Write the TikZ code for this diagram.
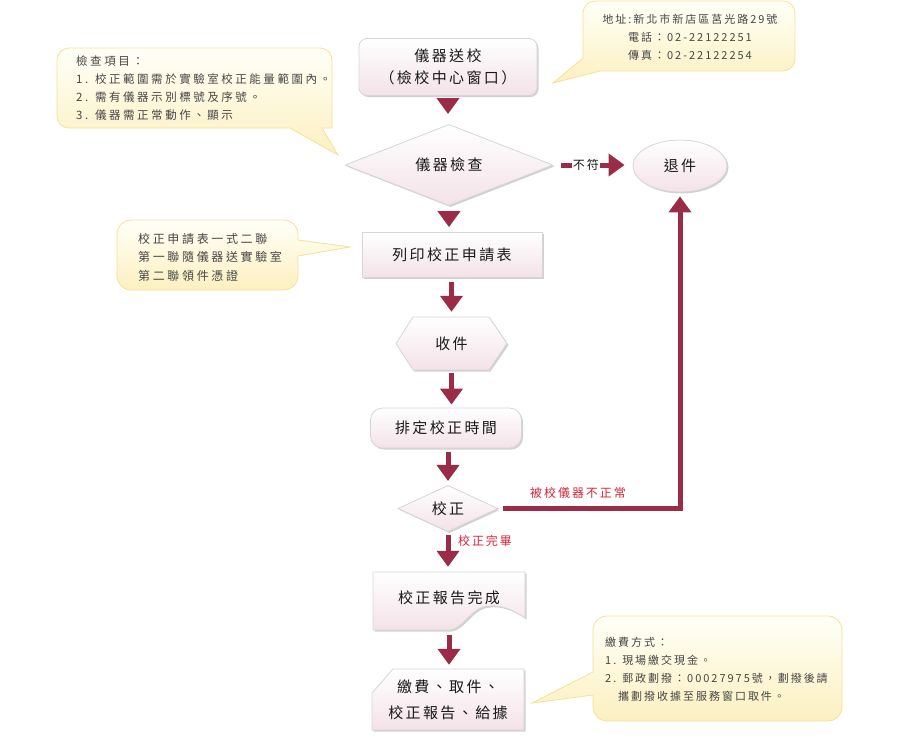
\documentclass[tikz,border=0pt]{standalone}
\usepackage{fontspec}
\setmainfont{Noto Sans CJK TC}
\newfontfamily\nodefont{Noto Sans CJK TC}[LetterSpace=16]
\newfontfamily\notefont{Noto Sans CJK TC}[LetterSpace=18]
\newfontfamily\notefontb{Noto Sans CJK TC}[LetterSpace=22]
\usetikzlibrary{arrows.meta,shapes.geometric,shadows}
\definecolor{arr}{RGB}{155,44,71}
\definecolor{pk}{RGB}{243,226,231}
\definecolor{bd}{RGB}{214,214,214}
\definecolor{nA}{RGB}{255,255,248}
\definecolor{nB}{RGB}{252,240,192}
\definecolor{nbd}{RGB}{245,225,150}
\definecolor{redt}{RGB}{214,36,58}
\definecolor{txt}{RGB}{25,25,25}
\definecolor{ntxt}{RGB}{70,70,70}
\begin{document}
\begin{tikzpicture}[x=1pt,y=-1pt,
  shd/.style={drop shadow={shadow xshift=1.5pt, shadow yshift=-1.5pt, opacity=0.18, fill=black}},
  proc/.style={shd, draw=bd, line width=0.8pt, top color=white, bottom color=pk, text=txt,
    font=\nodefont\fontsize{15}{22}\selectfont, align=center, inner sep=0pt},
  plain/.style={text=txt, font=\nodefont\fontsize{15}{26}\selectfont, align=center, inner sep=0pt},
  shapefill/.style={shd, draw=bd, line width=0.8pt, top color=white, bottom color=pk},
  flow/.style={draw=arr, line width=5pt, line join=miter, -{Triangle[width=22pt,length=16pt]}},
  bubble/.style={draw=nbd, line width=0.8pt, top color=nA, bottom color=nB},
  note/.style={font=\notefont\fontsize{11}{18}\selectfont, text=ntxt, align=left, inner sep=0pt},
  lbl/.style={font=\nodefont\fontsize{12}{14}\selectfont, inner sep=1pt},
]
\useasboundingbox (0,0) rectangle (900,740);

% ---- callouts ----
\path[bubble] (553,83) -- (583,58) [rounded corners=12pt] -- (583,1) -- (795,1) -- (795,71) [sharp corners] -- (600,71) -- cycle;
\node[note, align=center] (addr) at (690,37) {地址:新北市新店區莒光路29號\\電話：02-22122251\\傳真：02-22122254};

\path[bubble] (338,155) -- (290,128) [rounded corners=12pt] -- (57,128) -- (57,48) -- (332,48) [sharp corners] -- (332,128) -- (322,128) -- cycle;
\node[note, font=\notefontb\fontsize{11.5}{18}\selectfont, anchor=west] (items) at (76,88) {檢查項目：\\1. 校正範圍需於實驗室校正能量範圍內。\\2. 需有儀器示別標號及序號。\\3. 儀器需正常動作、顯示};

\path[bubble] (350,247) -- (298,256) [rounded corners=14pt] -- (298,290) -- (117,290) -- (117,220) -- (298,220) [sharp corners] -- (298,240) -- cycle;
\node[note, font=\notefontb\fontsize{12}{18.5}\selectfont, anchor=west] (form) at (138,257) {校正申請表一式二聯\\第一聯隨儀器送實驗室\\第二聯領件憑證};

\path[bubble] (532,703) -- (593,672) [rounded corners=14pt] -- (593,616) -- (842,616) -- (842,721) -- (593,721) [sharp corners] -- (593,695) -- cycle;
\node[note, anchor=west] (paynote) at (605,669) {繳費方式：\\1. 現場繳交現金。\\2. 郵政劃撥：00027975號，劃撥後請\\\hspace{13pt}攜劃撥收據至服務窗口取件。};

% ---- flow nodes ----
\node[proc, rounded corners=8pt, minimum width=178pt, minimum height=57pt] (send) at (448,67) {儀器送校\\（檢校中心窗口）};
\node[proc, diamond, minimum width=208pt, minimum height=50pt] (check) at (449,165) {儀器檢查};
\node[proc, ellipse, minimum width=94pt, minimum height=52pt] (ret) at (680,166) {退件};
\node[proc, minimum width=180pt, minimum height=45pt] (print) at (452,255) {列印校正申請表};

\path[shapefill] (396,343.5) -- (413,317) -- (489,317) -- (507,343.5) -- (489,370) -- (413,370) -- cycle;
\node[plain, minimum width=111pt, minimum height=53pt] (recv) at (451.5,343.5) {收件};

\node[proc, rounded corners=12pt, minimum width=151pt, minimum height=40pt] (sched) at (446,428) {排定校正時間};
\node[proc, diamond, minimum width=100pt, minimum height=43pt] (cal) at (448,508.5) {校正};

\path[shapefill] (373,572) -- (525,572) -- (525,618) .. controls (508,606) and (495,604) .. (483,607) .. controls (470,611) and (462,629) .. (450,630) -- (373,630) -- cycle;
\node[plain, minimum width=152pt, minimum height=58pt] (report) at (449,601) {\raisebox{7pt}{校正報告完成}};

\path[shapefill] (393,669) -- (524,669) -- (524,730) -- (372,730) -- (372,693) -- cycle;
\node[plain, minimum width=152pt, minimum height=61pt] (pay) at (448,699.5) {繳費、取件、\\校正報告、給據};

% ---- connectors ----
\draw[flow, shorten <=3pt, shorten >=10pt] (send.south) -- (send.south |- check.north);
\draw[flow, shorten <=8pt, shorten >=8pt] (check.east) -- (check.east -| ret.west)
  node[lbl, pos=0.41, fill=white, text=txt] (nofit) {不符};
\draw[flow, shorten <=5pt, shorten >=5pt] (check.south) -- (check.south |- print.north);
\draw[flow, shorten <=4.5pt, shorten >=5pt] (print.south -| recv.north) -- (recv.north);
\draw[flow, shorten <=3pt, shorten >=3pt] (recv.south) -- (recv.south |- sched.north);
\draw[flow, shorten <=4pt, shorten >=4pt] (sched.south -| cal.north) -- (cal.north);
\draw[flow, shorten <=5pt, shorten >=4pt] (cal.east) -| (ret.south);
\node[lbl, text=redt] (bad) at (578,493) {被校儀器不正常};
\draw[flow, shorten <=3pt, shorten >=5pt] (cal.south) -- (cal.south |- report.north);
\node[lbl, text=redt] (done) at (485,541) {校正完畢};
\draw[flow, shorten <=5pt, shorten >=4pt] (report.south) -- (report.south |- pay.north);
\end{tikzpicture}
\end{document}
